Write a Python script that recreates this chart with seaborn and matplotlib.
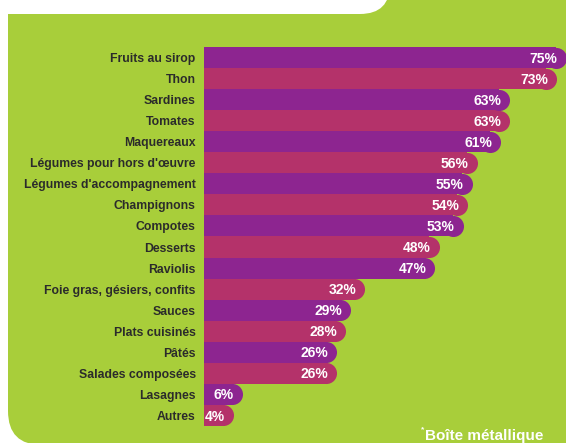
import matplotlib
matplotlib.use("Agg")
import matplotlib.pyplot as plt
import matplotlib.patches as mpatches
from matplotlib.transforms import IdentityTransform
import seaborn as sns
import pandas as pd

# Data
categories = [
    "Fruits au sirop", "Thon", "Sardines", "Tomates", "Maquereaux",
    "Légumes pour hors d'œuvre", "Légumes d'accompagnement", "Champignons",
    "Compotes", "Desserts", "Raviolis", "Foie gras, gésiers, confits",
    "Sauces", "Plats cuisinés", "Pâtés", "Salades composées", "Lasagnes", "Autres",
]
values = [75, 73, 63, 63, 61, 56, 55, 54, 53, 48, 47, 32, 29, 28, 26, 26, 6, 4]
footnote = "Boîte métallique"

PURPLE = "#8d2590"
PINK = "#b4326a"
GREEN = "#a8ce3a"
colors = [PURPLE if i % 2 == 0 else PINK for i in range(len(categories))]

df = pd.DataFrame({"cat": categories, "val": values})

sns.set_style("white")
plt.rcParams["font.family"] = ["Liberation Sans", "DejaVu Sans"]

W, H = 566, 443
fig = plt.figure(figsize=(W / 100, H / 100), dpi=100)
fig.patch.set_facecolor("white")

# green panel and white title tab (pixel coordinates)
panel = mpatches.FancyBboxPatch((8, -2), 700, 600, boxstyle="round,pad=0,rounding_size=34",
                                transform=IdentityTransform(), facecolor=GREEN, edgecolor="none", zorder=0)
fig.add_artist(panel)
tab = mpatches.FancyBboxPatch((-60, H - 14), 450, 100, boxstyle="round,pad=0,rounding_size=30",
                              transform=IdentityTransform(), facecolor="white", edgecolor="none", zorder=0)
fig.add_artist(tab)

ax = fig.add_axes([204 / W, 17 / H, 362 / W, 379 / H])
ax.set_facecolor("none")

sns.barplot(data=df, x="val", y="cat", hue="cat", palette=colors, legend=False,
            width=1.0, linewidth=0, saturation=1, ax=ax)

ax.set_xlim(0, 362 / 4.69)
ax.set_ylim(len(categories) - 0.5, -0.5)
for s in ax.spines.values():
    s.set_visible(False)
ax.set_xticks([])
ax.set_xlabel("")
ax.set_ylabel("")
ax.tick_params(axis="y", length=0, pad=6)
for lbl in ax.get_yticklabels():
    lbl.set_fontsize(8.8)
    lbl.set_fontweight("bold")
    lbl.set_color("#2b2b2b")

# rounded caps at the end of each bar
fig.canvas.draw()
y0 = ax.transData.transform((0, 0))[1]
y1 = ax.transData.transform((0, 1))[1]
diam_pt = abs(y0 - y1) * 72 / fig.dpi
for i, v in enumerate(values):
    ax.scatter([v], [i], s=diam_pt ** 2, color=colors[i], linewidths=0,
               clip_on=False, zorder=3)
    ax.text(v + 0.4, i + 0.05, f"{v}%", ha="right", va="center", color="white",
            fontsize=10, fontweight="bold", zorder=4)

note = fig.text(543 / W, 1 - 436 / H, footnote, ha="right", va="center", color="white",
                fontsize=11, fontweight="bold")
fig.canvas.draw()
bb = note.get_window_extent()
fig.text((bb.x0 - 0.5) / W, 1 - 430 / H, "*", ha="right", va="center", color="white",
         fontsize=6, fontweight="bold")

fig.savefig("out.png", dpi=100, facecolor=fig.get_facecolor())
